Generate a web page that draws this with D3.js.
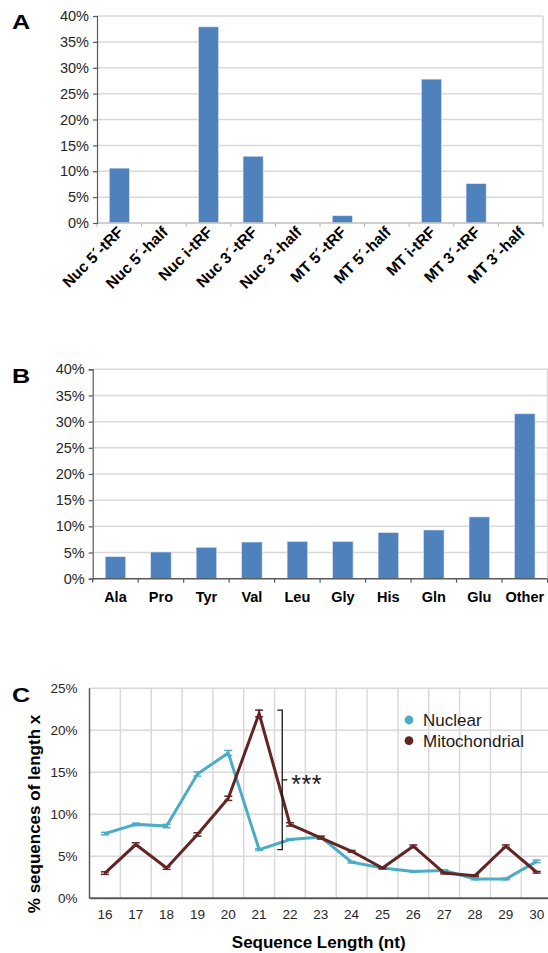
<!DOCTYPE html>
<html>
<head>
<meta charset="utf-8">
<script src="https://cdn.jsdelivr.net/npm/d3@7"></script>
<style>
  html, body { margin: 0; padding: 0; background: #fff; }
  svg { display: block; font-family: "Liberation Sans", Arial, Helvetica, sans-serif; }
</style>
</head>
<body>
<svg id="fig" width="548" height="953"></svg>
<script>
// ---- Panel A: fragment class distribution ----
const fragClasses = ["Nuc 5´-tRF", "Nuc 5´-half", "Nuc i-tRF", "Nuc 3´-tRF", "Nuc 3´-half",
                     "MT 5´-tRF", "MT 5´-half", "MT i-tRF", "MT 3´-tRF", "MT 3´-half"];
const fragPercent = [10.6, 0, 37.9, 12.9, 0, 1.4, 0, 27.8, 7.6, 0];

// ---- Panel B: amino acid distribution ----
const aminoAcids = ["Ala", "Pro", "Tyr", "Val", "Leu", "Gly", "His", "Gln", "Glu", "Other"];
const aminoPercent = [4.2, 5.1, 6.0, 7.0, 7.1, 7.1, 8.8, 9.3, 11.8, 31.5];

// ---- Panel C: sequence length distribution ----
const seqLengths = [16, 17, 18, 19, 20, 21, 22, 23, 24, 25, 26, 27, 28, 29, 30];
const nuclearPercent = [7.7, 8.8, 8.6, 14.8, 17.3, 5.8, 7.0, 7.3, 4.3, 3.6, 3.2, 3.3, 2.3, 2.3, 4.4];
const nuclearErr     = [0.15, 0.15, 0.2, 0.25, 0.3, 0.1, 0.1, 0.15, 0.1, 0.1, 0.1, 0.1, 0.1, 0.1, 0.15];
const mitoPercent    = [3.0, 6.4, 3.6, 7.6, 11.9, 22.0, 8.8, 7.2, 5.6, 3.6, 6.2, 3.0, 2.7, 6.2, 3.1];
const mitoErr        = [0.15, 0.2, 0.15, 0.2, 0.25, 0.4, 0.2, 0.15, 0.1, 0.1, 0.15, 0.1, 0.1, 0.15, 0.1];
const percentTicksAB = [0, 5, 10, 15, 20, 25, 30, 35, 40];
const percentTicksC  = [0, 5, 10, 15, 20, 25];

const BAR = "#4f81bd", NUC = "#4bacc6", MITO = "#632523";
const GRID = "#d9d9d9", AXIS = "#595959", TXT = "#262626";

const svg = d3.select("#fig");

function panelLetter(letter, x, y) {
  svg.append("text").attr("x", x).attr("y", y)
    .attr("font-size", 21).attr("font-weight", "bold").attr("fill", "#000")
    .attr("transform", `translate(${x},${y}) scale(1.2,1) translate(${-x},${-y})`)
    .text(letter);
}

// Generic percentage bar chart (panels A and B)
function barPanel(opts) {
  const { cats, vals, left, right, top, bottom, xAxisColor } = opts;
  const x = d3.scaleBand().domain(cats).range([left, right]).paddingInner(0.55).paddingOuter(0.275);
  const y = d3.scaleLinear().domain([0, 40]).range([bottom, top]);
  const g = svg.append("g");

  // horizontal gridlines
  g.selectAll("line.grid").data(percentTicksAB.filter(t => t > 0)).join("line")
    .attr("x1", left).attr("x2", right)
    .attr("y1", d => y(d)).attr("y2", d => y(d))
    .attr("stroke", GRID).attr("stroke-width", 1.5);
  // right border
  g.append("line").attr("x1", right).attr("x2", right).attr("y1", y(40)).attr("y2", y(0))
    .attr("stroke", GRID).attr("stroke-width", 1.5);

  // bars
  g.selectAll("rect").data(vals.map((v, i) => ({ c: cats[i], v }))).join("rect")
    .attr("x", d => x(d.c)).attr("width", x.bandwidth())
    .attr("y", d => y(d.v)).attr("height", d => y(0) - y(d.v))
    .attr("fill", BAR).attr("stroke", "#dbe5f1").attr("stroke-width", 0.6);

  // x axis with category-boundary ticks
  const off = (x.step() - x.bandwidth()) / 2;
  const bounds = cats.map(c => x(c) - off).concat([right]);
  g.append("line").attr("x1", left).attr("x2", right).attr("y1", y(0)).attr("y2", y(0))
    .attr("stroke", xAxisColor).attr("stroke-width", 1.5);
  g.selectAll("line.xt").data(bounds).join("line")
    .attr("x1", d => d).attr("x2", d => d).attr("y1", y(0)).attr("y2", y(0) + 4)
    .attr("stroke", xAxisColor).attr("stroke-width", 1.2);

  // y axis
  const yAxis = d3.axisLeft(y).tickValues(percentTicksAB).tickFormat(d => d + "%").tickSize(4).tickPadding(4);
  const ya = g.append("g").attr("transform", `translate(${left},0)`).call(yAxis);
  ya.select(".domain").attr("stroke", AXIS).attr("stroke-width", 1.2);
  ya.selectAll(".tick line").attr("stroke", AXIS).attr("stroke-width", 1.2);
  ya.selectAll(".tick text").attr("font-size", 14.5).attr("fill", TXT)
    .attr("font-family", "Liberation Sans, Arial, sans-serif");
  return { x, y, g };
}

// ---- Panel A ----
panelLetter("A", 12, 29);
const A = barPanel({ cats: fragClasses, vals: fragPercent, left: 97, right: 543, top: 16, bottom: 223, xAxisColor: "#bfbfbf" });
A.g.selectAll("text.xl").data(fragClasses).join("text")
  .attr("class", "xl")
  .attr("transform", d => `translate(${A.x(d) + A.x.bandwidth() / 2 + 5},${233}) rotate(-45)`)
  .attr("text-anchor", "end")
  .attr("font-size", 15.5).attr("font-weight", "bold").attr("fill", "#000")
  .text(d => d);

// ---- Panel B ----
panelLetter("B", 12, 383);
const B = barPanel({ cats: aminoAcids, vals: aminoPercent, left: 92.7, right: 547.5, top: 369.3, bottom: 578.7, xAxisColor: AXIS });
B.g.selectAll("text.xl").data(aminoAcids).join("text")
  .attr("class", "xl")
  .attr("x", d => B.x(d) + B.x.bandwidth() / 2).attr("y", 601.7)
  .attr("text-anchor", "middle")
  .attr("font-size", 14.5).attr("font-weight", "bold").attr("fill", "#000")
  .text(d => d);

// ---- Panel C ----
panelLetter("C", 12, 702);
const cLeft = 89.5, cRight = 552.1, cTop = 688.3, cBottom = 898.3;
const xb = d3.scaleBand().domain(seqLengths).range([cLeft, cRight]).padding(0);
const xc = d => xb(d) + xb.bandwidth() / 2;
const yc = d3.scaleLinear().domain([0, 25]).range([cBottom, cTop]);
const gc = svg.append("g");

// gridlines
gc.selectAll("line.hg").data(percentTicksC.filter(t => t > 0)).join("line")
  .attr("x1", cLeft).attr("x2", cRight).attr("y1", d => yc(d)).attr("y2", d => yc(d))
  .attr("stroke", GRID).attr("stroke-width", 1.5);
gc.selectAll("line.vg").data(seqLengths.slice(1).map(d => xb(d)).concat([cRight])).join("line")
  .attr("x1", d => d).attr("x2", d => d).attr("y1", cTop).attr("y2", cBottom)
  .attr("stroke", GRID).attr("stroke-width", 1.5);

// axes
gc.append("line").attr("x1", cLeft).attr("x2", cLeft).attr("y1", cTop).attr("y2", cBottom)
  .attr("stroke", AXIS).attr("stroke-width", 1.5);
gc.append("line").attr("x1", cLeft).attr("x2", cRight).attr("y1", cBottom).attr("y2", cBottom)
  .attr("stroke", AXIS).attr("stroke-width", 2);
gc.selectAll("text.yt").data(percentTicksC).join("text")
  .attr("x", 77.5).attr("y", d => yc(d)).attr("dy", "0.35em")
  .attr("text-anchor", "end").attr("font-size", 13.5).attr("fill", TXT)
  .text(d => d + "%");
gc.selectAll("text.xt").data(seqLengths).join("text")
  .attr("x", d => xc(d)).attr("y", 918.5)
  .attr("text-anchor", "middle").attr("font-size", 13.5).attr("fill", TXT)
  .text(d => d);

// axis titles
svg.append("text").attr("x", 318.7).attr("y", 948)
  .attr("text-anchor", "middle").attr("font-size", 17).attr("font-weight", "bold").attr("fill", "#000")
  .text("Sequence Length (nt)");
svg.append("text").attr("transform", "translate(39.5,814) rotate(-90)")
  .attr("text-anchor", "middle").attr("font-size", 17).attr("font-weight", "bold").attr("fill", "#000")
  .text("% sequences of length x");

// series with error bars
function series(vals, errs, color) {
  const pts = seqLengths.map((l, i) => ({ l, v: vals[i], e: errs[i] }));
  const line = d3.line().x(d => xc(d.l)).y(d => yc(d.v));
  gc.append("path").datum(pts).attr("d", line)
    .attr("fill", "none").attr("stroke", color).attr("stroke-width", 3).attr("stroke-linejoin", "miter");
  const eb = gc.append("g").attr("stroke", color).attr("stroke-width", 1.5);
  pts.forEach(d => {
    const cx = xc(d.l);
    eb.append("line").attr("x1", cx).attr("x2", cx).attr("y1", yc(d.v - d.e)).attr("y2", yc(d.v + d.e));
    eb.append("line").attr("x1", cx - 4).attr("x2", cx + 4).attr("y1", yc(d.v + d.e)).attr("y2", yc(d.v + d.e));
    eb.append("line").attr("x1", cx - 4).attr("x2", cx + 4).attr("y1", yc(d.v - d.e)).attr("y2", yc(d.v - d.e));
  });
}
series(nuclearPercent, nuclearErr, NUC);
series(mitoPercent, mitoErr, MITO);

// significance bracket at length 21
const i21 = seqLengths.indexOf(21);
const bx = xc(21) + xb.bandwidth() * 0.75;
const bTop = yc(mitoPercent[i21] + mitoErr[i21]);
const bBot = yc(nuclearPercent[i21]);
const bMid = (bTop + bBot) / 2;
const br = gc.append("g").attr("stroke", "#1a1a1a").attr("stroke-width", 1.3).attr("fill", "none");
br.append("path").attr("d", `M${bx - 5},${bTop} H${bx} V${bBot} H${bx - 5}`);
br.append("line").attr("x1", bx).attr("x2", bx + 5).attr("y1", bMid).attr("y2", bMid);
gc.append("text").attr("x", bx + 9).attr("y", bMid + 13)
  .attr("font-size", 25).attr("letter-spacing", 0.5).attr("fill", "#1a1a1a").text("***");

// legend
const legend = [{ name: "Nuclear", color: NUC }, { name: "Mitochondrial", color: MITO }];
const lg = gc.append("g");
legend.forEach((d, i) => {
  const ly = 720 + i * 20.7;
  lg.append("circle").attr("cx", 409).attr("cy", ly).attr("r", 4.4).attr("fill", d.color);
  lg.append("text").attr("x", 423).attr("y", ly).attr("dy", "0.36em")
    .attr("font-size", 17).attr("fill", "#1a1a1a").text(d.name);
});
</script>
</body>
</html>
